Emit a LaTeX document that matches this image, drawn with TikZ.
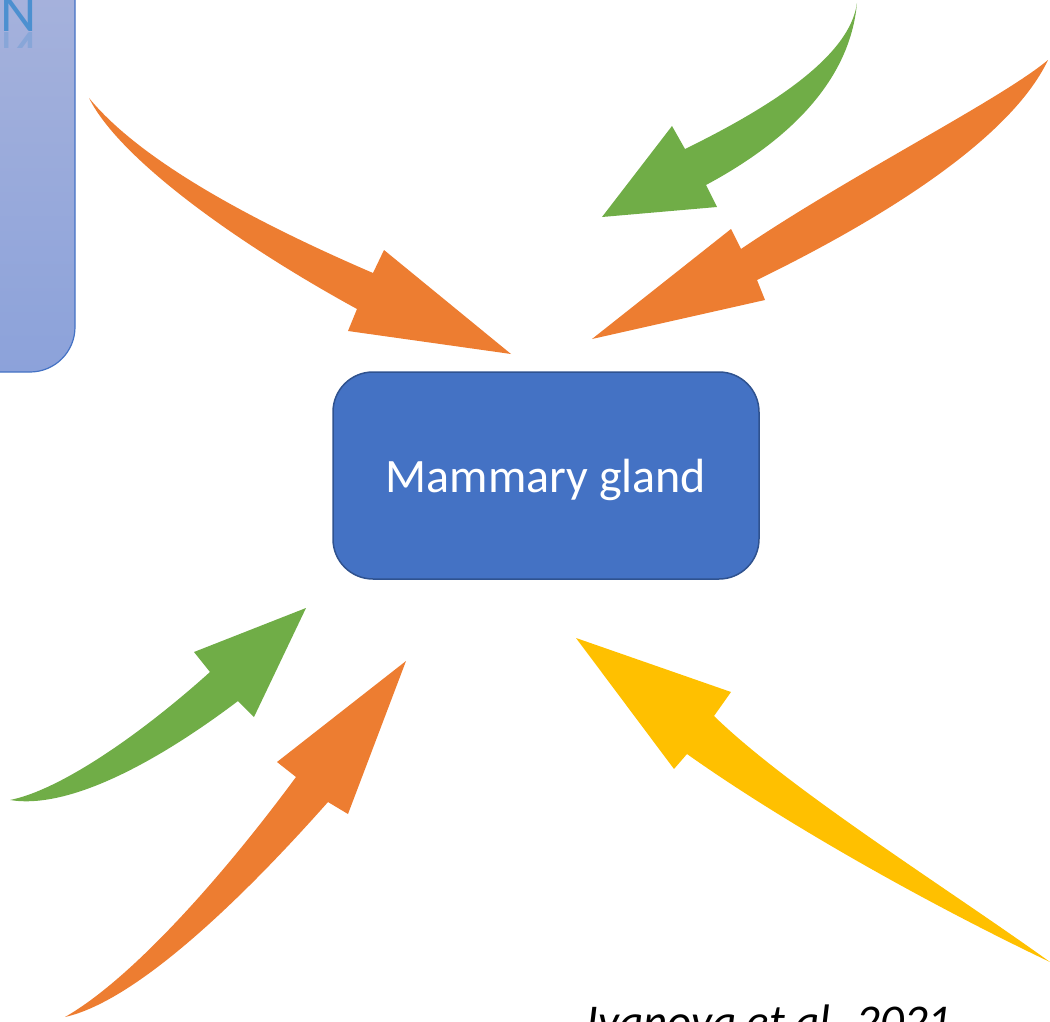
\documentclass[tikz,border=0pt]{standalone}
\usepackage{fontspec}
\setmainfont{Carlito}
\definecolor{morange}{HTML}{ED7D31}
\definecolor{mgreen}{HTML}{70AD47}
\definecolor{myellow}{HTML}{FFC000}
\definecolor{mblue}{HTML}{4472C4}
\definecolor{mbluedark}{HTML}{2F528F}
\definecolor{lboxtop}{HTML}{A9B4DC}
\definecolor{lboxbot}{HTML}{8CA2DA}
\definecolor{nblue}{HTML}{4C90D0}
\tikzset{
  sidebox/.style={top color=lboxtop, bottom color=lboxbot, draw=mblue, line width=1.2pt,
    rounded corners=45pt, inner sep=0pt},
  mainbox/.style={fill=mblue, draw=mbluedark, line width=1.5pt, rounded corners=40pt, inner sep=0pt},
}
\begin{document}
\begin{tikzpicture}[x=1pt,y=-1pt]
\useasboundingbox (0,0) rectangle (1050,1022);
\clip (0,0) rectangle (1050,1022);
% partial side box
\node (lbox) [sidebox, minimum width=135pt, minimum height=432pt] at (7.5,156) {};
\node (nletter) [anchor=base west, inner sep=0pt, text=nblue, font=\fontsize{56}{56}\selectfont] at (0,32) {N};
\begin{scope}
  \clip (0,32) rectangle (60,48);
  \node (nreflect) [anchor=base west, inner sep=0pt, yscale=-1, text=nblue, opacity=0.3, font=\fontsize{56}{56}\selectfont] at (0,33) {N};
\end{scope}
% arrows
\fill[morange] (89,98) .. controls (140,160) and (250,220) .. (373,273) -- (384,250) -- (511,354) -- (348,331) -- (357,309) .. controls (240,245) and (120,160) .. (89,98) -- cycle;
\fill[mgreen] (857,3) .. controls (850,55) and (775,105) .. (685,149) -- (672,126) -- (602,217) -- (717,207) -- (706,185) .. controls (790,140) and (850,80) .. (857,3) -- cycle;
\fill[morange] (1048,60) .. controls (1000,100) and (850,175) .. (741,249) -- (731,229) -- (592,339) -- (765,300) -- (757,280) .. controls (880,220) and (1010,140) .. (1048,60) -- cycle;
\fill[mgreen] (10,800) .. controls (60,790) and (140,735) .. (210,672) -- (194,652) -- (306,608) -- (254,717) -- (238,701) .. controls (160,760) and (70,810) .. (10,800) -- cycle;
\fill[morange] (65,1017) .. controls (130,980) and (220,880) .. (296,777) -- (277,762) -- (406,661) -- (348,814) -- (328,802) .. controls (250,890) and (140,1000) .. (65,1017) -- cycle;
\fill[myellow] (576,638) -- (731,692) -- (714,716) .. controls (790,790) and (950,890) .. (1050,962) .. controls (920,900) and (780,820) .. (687,754) -- (674,769) -- cycle;
% main box
\node (mg) [mainbox, minimum width=426pt, minimum height=207pt] at (546,475.5) {};
\node (mgtext) [anchor=base, inner sep=0pt, text=white, font=\fontsize{48}{48}\selectfont] at (546,492) {Mammary gland};
% citation
\node (cite) [anchor=base west, inner sep=0pt, font=\fontsize{47}{47}\selectfont\itshape] at (586,1037) {Ivanova et al. 2021};
\end{tikzpicture}
\end{document}
